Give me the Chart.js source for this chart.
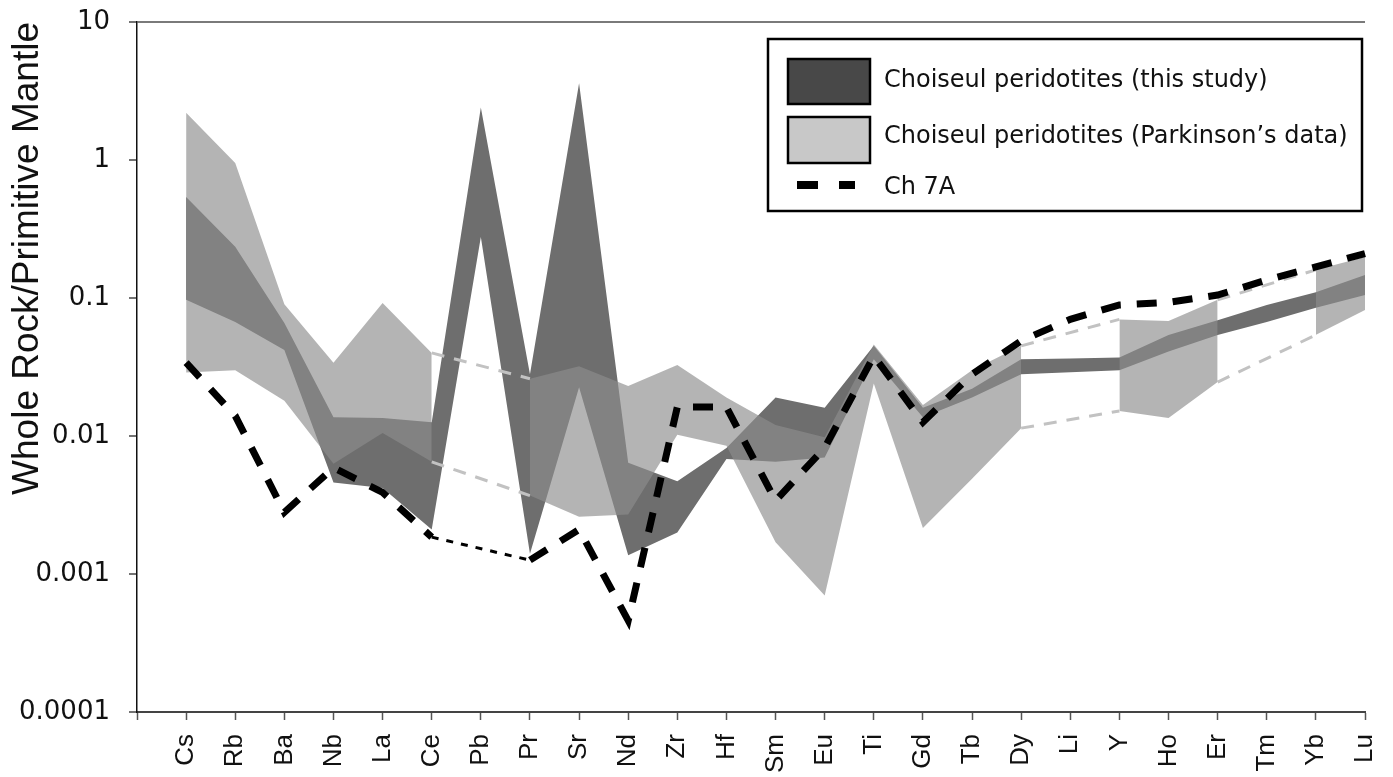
<!DOCTYPE html>
<html>
<head>
<meta charset="utf-8">
<script src="https://cdn.jsdelivr.net/npm/chart.js@4/dist/chart.umd.min.js"></script>
<style>
  body { margin: 0; background: #fff; }
  #wrap { width: 1393px; height: 777px; }
</style>
</head>
<body>
<div id="wrap"><canvas id="spider" width="1393" height="777"></canvas></div>
<script>
// element order on the x axis (first slot left empty, like the original)
const elements = ['', 'Cs', 'Rb', 'Ba', 'Nb', 'La', 'Ce', 'Pb', 'Pr', 'Sr', 'Nd', 'Zr', 'Hf', 'Sm', 'Eu', 'Ti', 'Gd', 'Tb', 'Dy', 'Li', 'Y', 'Ho', 'Er', 'Tm', 'Yb', 'Lu'];

// Choiseul peridotites (this study) - max / min envelope
const thisStudyMax = [null, 0.54, 0.235, 0.066, 0.0137, 0.0135, 0.0126, 2.4, 0.028, 3.6, 0.0064, 0.0047, 0.0082, 0.019, 0.016, 0.045, 0.016, 0.022, 0.036, 0.0365, 0.037, 0.054, 0.069, 0.089, 0.11, 0.147];
const thisStudyMin = [null, 0.097, 0.067, 0.042, 0.0046, 0.0042, 0.0021, 0.277, 0.0014, 0.0226, 0.00137, 0.002, 0.0068, 0.0065, 0.007, 0.036, 0.0137, 0.019, 0.028, 0.029, 0.030, 0.041, 0.054, 0.067, 0.085, 0.105];

// Choiseul peridotites (Parkinson's data) - max / min envelope, null = not analysed
const parkinsonMax = [null, 2.2, 0.95, 0.09, 0.034, 0.092, 0.040, null, 0.026, 0.032, 0.023, 0.0327, 0.019, 0.012, 0.0098, 0.046, 0.0168, 0.030, 0.045, null, 0.070, 0.068, 0.097, null, 0.16, 0.198];
const parkinsonMin = [null, 0.0288, 0.030, 0.018, 0.0063, 0.0105, 0.0065, null, 0.0037, 0.0026, 0.0027, 0.0102, 0.0085, 0.0017, 0.0007, 0.024, 0.00215, 0.0049, 0.0114, null, 0.0152, 0.0135, 0.0246, null, 0.054, 0.082];

// sample Ch 7A
const ch7A = [null, 0.034, 0.014, 0.0028, 0.0059, 0.0039, 0.00185, null, 0.00126, 0.0021, 0.00046, 0.0162, 0.0162, 0.0034, 0.0082, 0.038, 0.0126, 0.028, 0.049, 0.07, 0.089, 0.093, 0.105, 0.135, 0.168, 0.21];

const seriesNames = ['Choiseul peridotites (this study)', 'Choiseul peridotites (Parkinson\u2019s data)', 'Ch 7A'];

const yTickValues = [0.0001, 0.001, 0.01, 0.1, 1, 10];
const yTickLabels = ['0.0001', '0.001', '0.01', '0.1', '1', '10'];

// colours
const darkFill = '#6e6e6e';
const lightFill = 'rgba(140,140,140,0.655)';
const clear = 'rgba(0,0,0,0)';

// a segment that runs through a missing element (spanGaps)
function isGap(c) {
  return c.p0.skip || c.p1.skip;
}

const lightSegment = {
  borderColor: c => isGap(c) ? '#c2c2c2' : clear,
  borderDash: c => isGap(c) ? [13, 10] : [],
  backgroundColor: c => isGap(c) ? clear : lightFill
};

// legend box drawn on the canvas
const boxLegend = {
  id: 'boxLegend',
  afterDraw(chart) {
    const ctx = chart.ctx;
    ctx.save();
    ctx.fillStyle = '#fff';
    ctx.strokeStyle = '#000';
    ctx.lineWidth = 2.5;
    ctx.fillRect(768, 39, 594, 172);
    ctx.strokeRect(768, 39, 594, 172);

    ctx.fillStyle = '#484848';
    ctx.fillRect(788, 59, 82, 45);
    ctx.strokeRect(788, 59, 82, 45);
    ctx.fillStyle = '#c8c8c8';
    ctx.fillRect(788, 117, 82, 46);
    ctx.strokeRect(788, 117, 82, 46);

    ctx.beginPath();
    ctx.setLineDash([21, 21]);
    ctx.lineWidth = 8;
    ctx.moveTo(797, 185);
    ctx.lineTo(855, 185);
    ctx.stroke();
    ctx.setLineDash([]);

    ctx.fillStyle = '#111';
    ctx.font = '24px "DejaVu Sans"';
    ctx.textBaseline = 'middle';
    ctx.fillText(seriesNames[0], 884, 81);
    ctx.fillText(seriesNames[1], 884, 137);
    ctx.fillText(seriesNames[2], 884, 188);
    ctx.restore();
  }
};

const chart = new Chart(document.getElementById('spider'), {
  type: 'line',
  data: {
    labels: elements,
    datasets: [
      {
        label: seriesNames[2],
        data: ch7A,
        spanGaps: true,
        borderColor: '#000',
        borderWidth: 7,
        borderCapStyle: 'butt',
        borderJoinStyle: 'miter',
        fill: false,
        segment: {
          borderWidth: c => isGap(c) ? 3 : 7,
          borderDash: c => isGap(c) ? [7, 8] : [20, 16]
        }
      },
      {
        label: seriesNames[1] + ' max',
        data: parkinsonMax,
        spanGaps: true,
        borderWidth: 3,
        borderColor: clear,
        backgroundColor: lightFill,
        fill: '+1',
        segment: lightSegment
      },
      {
        label: seriesNames[1] + ' min',
        data: parkinsonMin,
        spanGaps: true,
        borderWidth: 3,
        borderColor: clear,
        fill: false,
        segment: lightSegment
      },
      {
        label: seriesNames[0] + ' max',
        data: thisStudyMax,
        borderWidth: 1,
        borderColor: clear,
        backgroundColor: darkFill,
        fill: '+1'
      },
      {
        label: seriesNames[0] + ' min',
        data: thisStudyMin,
        borderWidth: 1,
        borderColor: clear,
        fill: false
      }
    ]
  },
  options: {
    responsive: false,
    animation: false,
    devicePixelRatio: 1,
    layout: { padding: { top: 22, right: 28, left: 0, bottom: 0 } },
    elements: { point: { radius: 0 }, line: { tension: 0 } },
    plugins: {
      legend: { display: false },
      tooltip: { enabled: false }
    },
    scales: {
      x: {
        type: 'category',
        offset: false,
        border: { color: '#444', width: 2 },
        grid: { drawOnChartArea: false, tickLength: 8, tickColor: '#555', tickWidth: 1.5 },
        ticks: {
          autoSkip: false,
          minRotation: 90,
          maxRotation: 90,
          padding: 14,
          color: '#111',
          font: { family: '"Liberation Sans", Arial, sans-serif', size: 26 }
        },
        afterFit(scale) {
          scale.height = 65;
          scale.paddingLeft = 0;
          scale.paddingRight = 0;
        }
      },
      y: {
        type: 'logarithmic',
        min: 0.0001,
        max: 10,
        border: { color: '#111', width: 1.5 },
        grid: {
          color: c => (c.tick && c.tick.value === 10) ? '#7a7a7a' : clear,
          lineWidth: 2,
          tickLength: 8,
          tickColor: '#444',
          tickWidth: 1.5
        },
        afterBuildTicks(scale) {
          scale.ticks = yTickValues.map(v => ({ value: v }));
        },
        ticks: {
          padding: 19,
          color: '#111',
          font: { family: '"DejaVu Sans", Verdana, sans-serif', size: 26 },
          callback: v => yTickLabels[yTickValues.indexOf(v)]
        },
        title: {
          display: true,
          text: 'Whole Rock/Primitive Mantle',
          align: 'end',
          color: '#111',
          padding: { top: 6, bottom: 0 },
          font: { family: '"Liberation Sans", Arial, sans-serif', size: 37 }
        },
        afterFit(scale) {
          scale.width = 137;
          scale.paddingTop = 0;
          scale.paddingBottom = 0;
        }
      }
    }
  },
  plugins: [boxLegend]
});
</script>
</body>
</html>
